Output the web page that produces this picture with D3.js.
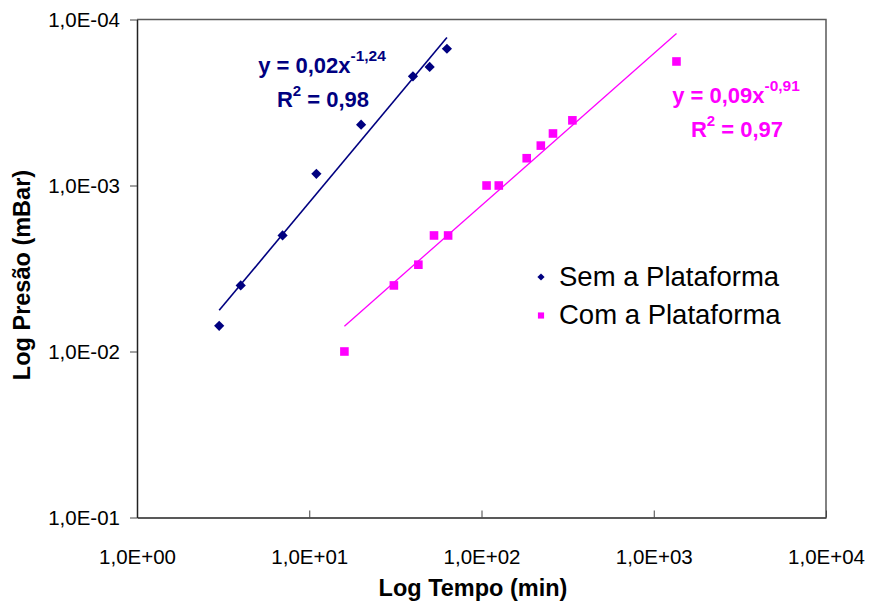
<!DOCTYPE html>
<html>
<head>
<meta charset="utf-8">
<script src="https://cdn.jsdelivr.net/npm/d3@7"></script>
<style>
    body { margin: 0; background: #fff; }
    svg { display: block; font-family: "Liberation Sans", Arial, sans-serif; }
</style>
</head>
<body>
<div id="chart"></div>
<script>
// Sem a Plataforma (tempo em min, pressão em mBar)
const semTempo = [3, 4, 7, 11, 20, 40, 50, 63];
const semPressao = [7.0e-3, 4.0e-3, 2.0e-3, 8.5e-4, 4.3e-4, 2.2e-4, 1.93e-4, 1.5e-4];

// Com a Plataforma
const comTempo = [16, 31, 43, 53, 64, 107, 126, 183, 221, 260, 337, 1355];
const comPressao = [1.0e-2, 4.0e-3, 3.0e-3, 2.0e-3, 2.0e-3, 1.0e-3, 1.0e-3, 6.85e-4, 5.75e-4, 4.86e-4, 4.05e-4, 1.79e-4];

const xTicks = [1, 10, 100, 1000, 10000];
const yTicks = [1e-4, 1e-3, 1e-2, 1e-1];

const seriesNames = ["Sem a Plataforma", "Com a Plataforma"];
const equations = [
    { base: "y = 0,02x", exp: "-1,24", r2: "0,98" },
    { base: "y = 0,09x", exp: "-0,91", r2: "0,97" },
];

const navy = "#000080";
const magenta = "#ff00ff";

const width = 871;
const height = 601;
const plot = { left: 137, right: 826, top: 19.5, bottom: 517.5 };

const svg = d3.select("#chart")
    .append("svg")
    .attr("width", width)
    .attr("height", height);

const xScale = d3.scaleLog().domain([1, 10000]).range([plot.left, plot.right]);
const yScale = d3.scaleLog().domain([1e-4, 1e-1]).range([plot.top, plot.bottom]);

// "1,0E+01" style labels
function sciLabel(v) {
    const e = Math.round(Math.log10(v));
    return "1,0E" + (e < 0 ? "-" : "+") + String(Math.abs(e)).padStart(2, "0");
}

// plot area border (top / right)
svg.append("path")
    .attr("d", `M${plot.left},${plot.top}H${plot.right}V${plot.bottom}`)
    .attr("fill", "none")
    .attr("stroke", "#5a5a5a")
    .attr("stroke-width", 1.5);

// X axis, ticks inside
const xAxis = svg.append("g")
    .attr("transform", `translate(0, ${plot.bottom})`)
    .call(d3.axisBottom(xScale).tickValues(xTicks).tickFormat(sciLabel).tickSizeInner(-7).tickSizeOuter(0).tickPadding(32));
xAxis.select(".domain").attr("stroke", "#222").attr("stroke-width", 1.5);
xAxis.selectAll(".tick line").attr("stroke", "#444").attr("stroke-width", 1);
xAxis.selectAll(".tick text").attr("font-size", 20.5).attr("fill", "#000");

// Y axis, ticks outside
const yAxis = svg.append("g")
    .attr("transform", `translate(${plot.left}, 0)`)
    .call(d3.axisLeft(yScale).tickValues(yTicks).tickFormat(sciLabel).tickSizeInner(7).tickSizeOuter(0).tickPadding(10));
yAxis.select(".domain").attr("stroke", "#222").attr("stroke-width", 1.5);
yAxis.selectAll(".tick line").attr("stroke", "#444").attr("stroke-width", 1);
yAxis.selectAll(".tick text").attr("font-size", 20.5).attr("fill", "#000");

// axis titles
svg.append("text")
    .attr("x", 473)
    .attr("y", 596)
    .attr("text-anchor", "middle")
    .attr("font-size", 23.5)
    .attr("font-weight", "bold")
    .text("Log Tempo (min)");

svg.append("text")
    .attr("transform", "translate(30, 275) rotate(-90)")
    .attr("text-anchor", "middle")
    .attr("font-size", 23.5)
    .attr("font-weight", "bold")
    .text("Log Presão (mBar)");

// power trendline = least squares on log10 values
function powerFit(xs, ys) {
    const lx = xs.map(Math.log10);
    const ly = ys.map(Math.log10);
    const mx = d3.mean(lx);
    const my = d3.mean(ly);
    const sxy = d3.sum(lx, (d, i) => (d - mx) * (ly[i] - my));
    const sxx = d3.sum(lx, (d) => (d - mx) ** 2);
    const b = sxy / sxx;
    const a = Math.pow(10, my - b * mx);
    return { a, b };
}

// diamond = square turned 45deg (Excel style)
const series = [
    { name: seriesNames[0], t: semTempo, p: semPressao, color: navy, rot: 45, size: 52, legendSize: 26, lw: 1.6 },
    { name: seriesNames[1], t: comTempo, p: comPressao, color: magenta, rot: 0, size: 74, legendSize: 38, lw: 1.3 },
];

series.forEach((s) => {
    const fit = powerFit(s.t, s.p);
    const [t0, t1] = d3.extent(s.t);
    const ends = [t0, t1].map((t) => [t, fit.a * Math.pow(t, fit.b)]);

    svg.append("path")
        .datum(ends)
        .attr("fill", "none")
        .attr("stroke", s.color)
        .attr("stroke-width", s.lw)
        .attr("d", d3.line().x((d) => xScale(d[0])).y((d) => yScale(d[1])));

    svg.append("g")
        .selectAll("path")
        .data(d3.zip(s.t, s.p))
        .join("path")
        .attr("transform", (d) => `translate(${xScale(d[0])}, ${yScale(d[1])}) rotate(${s.rot})`)
        .attr("d", d3.symbol().type(d3.symbolSquare).size(s.size))
        .attr("fill", s.color);
});

// equation labels
const eqPos = [
    { x: 322, y: 73, color: navy },
    { x: 736, y: 103, color: magenta },
];

equations.forEach((eq, i) => {
    const pos = eqPos[i];
    const t1 = svg.append("text")
        .attr("x", pos.x)
        .attr("y", pos.y)
        .attr("text-anchor", "middle")
        .attr("font-size", 22)
        .attr("font-weight", "bold")
        .attr("fill", pos.color);
    t1.append("tspan").text(eq.base);
    t1.append("tspan").attr("font-size", 15.5).attr("dy", -12).text(eq.exp);

    const t2 = svg.append("text")
        .attr("x", pos.x + 1)
        .attr("y", pos.y + 34)
        .attr("text-anchor", "middle")
        .attr("font-size", 22)
        .attr("font-weight", "bold")
        .attr("fill", pos.color);
    t2.append("tspan").text("R");
    t2.append("tspan").attr("font-size", 15).attr("dy", -11).text("2");
    t2.append("tspan").attr("dy", 11).text(" = " + eq.r2);
});

// legend
const legend = svg.append("g").attr("transform", "translate(541, 277)");
series.forEach((s, i) => {
    const row = legend.append("g").attr("transform", `translate(0, ${i * 38.5})`);
    row.append("path")
        .attr("transform", `rotate(${s.rot})`)
        .attr("d", d3.symbol().type(d3.symbolSquare).size(s.legendSize))
        .attr("fill", s.color);
    row.append("text")
        .attr("x", 18)
        .attr("y", 8.5)
        .attr("font-size", 27.5)
        .attr("fill", "#000")
        .text(s.name);
});
</script>
</body>
</html>
